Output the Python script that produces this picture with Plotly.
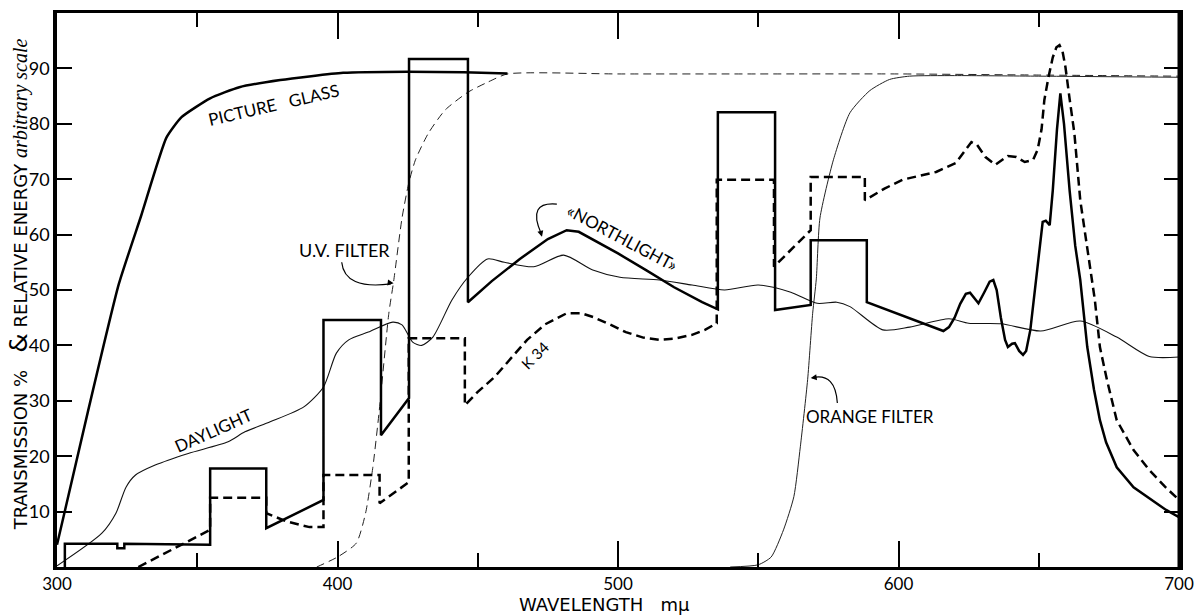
import plotly.graph_objects as go

# ---------------- data ----------------
glass_x = [300, 311, 322, 330, 339, 344.4, 354.6, 365, 379.6, 402, 425, 445, 460.6]
glass_y = [4, 28, 51, 63.4, 77.5, 81.2, 84.6, 86.6, 87.9, 89.2, 89.4, 89.3, 89.1]

uv_x = [392.6, 400, 406.7, 410, 412.6, 414.8, 418.3, 420, 423, 425.4, 427.8, 432.4, 438.4, 446.5,
        453.5, 460.6, 500, 550, 600, 650, 700]
uv_y = [0, 1.8, 4.3, 9.7, 18, 27.8, 45.8, 51.5, 63, 69.3, 73.5, 78.3, 82.5, 85.7,
        87.5, 89, 89, 89, 89, 88.8, 88.6]

orange_x = [540, 550, 554.6, 559, 562.7, 565, 567.6, 569.4, 570.7, 572, 576.8, 582.7, 589.8,
            596.8, 603.9, 620, 650, 700]
orange_y = [0, 0.4, 1.8, 6.7, 12.7, 21.7, 33.8, 45.8, 52, 63, 73.5, 82, 86,
            88, 88.6, 88.7, 88.6, 88.4]

daylight_x = [300, 316, 321, 324.6, 328, 335, 346.8, 361, 367, 376, 388, 395, 399.6, 404, 411,
              419.7, 423, 426.8, 430, 434, 440.8, 446.5, 453.5, 459.5, 470, 480.6, 491, 500.7,
              514.8, 526.4, 538, 550, 561.6, 571, 578, 582.7, 594.4, 604, 618, 625, 636.6,
              650.7, 664.8, 677.8, 689.4, 700]
daylight_y = [0.2, 6.1, 9.7, 14.4, 16.6, 18.4, 20.5, 22.6, 24.4, 26.2, 28.9, 32.5, 38.6, 41, 42.4,
              44.2, 43.7, 40.6, 40, 41.5, 48.2, 52.3, 55.6, 55, 54.2, 56.3, 53.6, 52.3,
              51.8, 50.9, 50, 50.9, 49.6, 47.6, 47.8, 47, 42.8, 43.3, 44.8, 44, 43.9,
              42.6, 44.4, 41.5, 38, 37.9]

north_x = [302.8, 302.8, 321.5, 321.5, 324, 324, 354.6, 354.6, 374.6, 374.6, 395, 395, 415.5, 415.5,
           425.5, 425.5, 446.5, 446.5, 455, 465, 475, 481.7, 486, 492, 500, 510, 520, 530, 535.6,
           535.6, 556, 556, 568.7, 568.7, 588.7, 588.7, 600, 614.4, 616, 618, 620, 622, 624, 625.5,
           627, 628.5, 630.5, 632.5, 633.8, 635, 636.5, 638, 639, 640.5, 641.5, 643, 644.4, 645.5,
           647, 648.6, 650, 651.4, 652.5, 653.9, 655, 656.5, 657.7, 659, 661, 663, 664.8, 667.3,
           669.7, 671.8, 674, 677.8, 683.8, 690, 695.4, 700]
north_y = [0, 4.2, 4.2, 3.4, 3.4, 4.2, 4.0, 17.8, 17.8, 7, 12.1, 44.6, 44.6, 23.8,
           30.5, 91.7, 91.7, 47.8, 51.6, 55.6, 59.2, 60.8, 60.5, 58.8, 56.6, 53.6, 50.5, 47.8, 46.5,
           82.1, 82.1, 46.4, 47.3, 59, 59, 47.8, 45.6, 42.8, 42.6, 43.3, 45, 47.5, 49.3, 49.5,
           48.5, 47.6, 49.5, 51.5, 51.8, 50, 45, 41, 39.7, 40.3, 40.4, 39, 38.3, 39,
           42.8, 50, 57, 62.3, 62.5, 61.7, 68, 79, 85.5, 80, 68, 58, 51.8, 39.7,
           32, 26.5, 22.5, 18, 14.4, 12.2, 10.3, 9]

k34_x = [329, 354.6, 354.6, 374.6, 374.6, 382, 390, 395, 395, 415, 415, 425.4, 425.4, 445.4, 445.4,
         450, 456, 462, 467.6, 474, 481.7, 487, 491.2, 497, 502.8, 509, 514.8, 520, 526.4, 531,
         535.2, 535.2, 555.6, 555.6, 568.7, 568.7, 588, 588, 595, 601.4, 607, 613.4, 620.4, 623.5,
         626, 628, 631, 634.5, 637, 639, 642, 645, 648, 649.6, 651, 652, 653.5, 655, 656.3, 657.4,
         658.5, 659.5, 661, 662.7, 664.8, 668, 670, 671.8, 674.3, 677.8, 683.8, 689.4, 695, 700]
k34_y = [0, 6.7, 12.5, 12.5, 9.7, 8.2, 7.2, 7.2, 16.6, 16.6, 11.5, 15.3, 41.3, 41.3, 29.2,
         31.6, 34.3, 37.8, 41, 43.8, 45.8, 45.8, 45.1, 43.8, 42.4, 41.4, 41, 41.2, 41.9, 42.8,
         44, 69.9, 69.9, 54.2, 60.8, 70.4, 70.4, 66.2, 68.3, 69.9, 70.6, 71.3, 72.9, 75,
         76.7, 76.2, 74, 72.6, 73.5, 74.2, 74, 73.1, 73.5, 75.3, 79, 84.3, 88.5, 92, 93.8, 94.2,
         93, 90.3, 84.5, 78.3, 66.2, 55.4, 48.2, 39.7, 33.8, 26.5, 21.1, 17.5, 14.5, 12.1]

x_ticks = [300, 400, 500, 600, 700]
x_tick_labels = ["300", "400", "500", "600", "700"]
y_ticks = [10, 20, 30, 40, 50, 60, 70, 80, 90]
y_tick_labels = ["10", "20", "30", "40", "50", "60", "70", "80", "90"]

FONT = "Lato"
TITLE_FONT = "DejaVu Sans"

fig = go.Figure()
fig.add_trace(go.Scatter(x=uv_x, y=uv_y, mode="lines", line=dict(color="#222", width=1, dash="8px,5px", shape="spline", smoothing=0.6), name="U.V. filter"))
fig.add_trace(go.Scatter(x=orange_x, y=orange_y, mode="lines", line=dict(color="#222", width=1, shape="spline", smoothing=0.6), name="Orange filter"))
fig.add_trace(go.Scatter(x=daylight_x, y=daylight_y, mode="lines", line=dict(color="#111", width=1.1, shape="spline", smoothing=0.7), name="Daylight"))
fig.add_trace(go.Scatter(x=glass_x, y=glass_y, mode="lines", line=dict(color="#000", width=2.5, shape="spline", smoothing=0.5), name="Picture glass"))
fig.add_trace(go.Scatter(x=k34_x, y=k34_y, mode="lines", line=dict(color="#000", width=2.5, dash="9px,5px"), name="K 34"))
fig.add_trace(go.Scatter(x=north_x, y=north_y, mode="lines", line=dict(color="#000", width=2.5), name="Northlight"))

ann_font = dict(family=FONT, size=17, color="#000")
annotations = [
    dict(x=377.5, y=83.4, text="PICTURE\u00a0\u00a0\u00a0GLASS", textangle=-13, showarrow=False, font=ann_font),
    dict(x=402.5, y=57.2, text="U.V. FILTER", showarrow=False, font=dict(family=FONT, size=18, color="#000")),
    dict(x=355.6, y=24.7, text="DAYLIGHT", textangle=-24, showarrow=False, font=ann_font),
    dict(x=501.4, y=59.4, text="«NORTHLIGHT»", textangle=28, showarrow=False, font=ann_font),
    dict(x=470.4, y=38.3, text="K 34", textangle=-45, showarrow=False, font=dict(family=FONT, size=15, color="#000")),
    dict(x=590, y=27.1, text="ORANGE FILTER", showarrow=False, font=ann_font),
    # arrowheads for curved pointers
    dict(x=420, y=51.2, ax=-7, ay=-1, text="", showarrow=True, arrowhead=2, arrowsize=1, arrowwidth=1.2, arrowcolor="#000"),
    dict(x=472.9, y=59.6, ax=-2, ay=-7, text="", showarrow=True, arrowhead=2, arrowsize=1, arrowwidth=1.2, arrowcolor="#000"),
    dict(x=568.7, y=34.1, ax=7, ay=-1, text="", showarrow=True, arrowhead=2, arrowsize=1, arrowwidth=1.2, arrowcolor="#000"),
    # axis titles
    dict(xref="paper", yref="paper", x=-0.034, y=0.51, xanchor="center", yanchor="middle", textangle=-90,
         text="TRANSMISSION %\u00a0\u00a0\u00a0<span style='font-size:25px'>&amp;</span>\u00a0RELATIVE ENERGY <i style='font-family:Liberation Serif;font-size:20px'>arbitrary scale</i>",
         showarrow=False, font=dict(family=TITLE_FONT, size=18, color="#000")),
    dict(xref="paper", yref="paper", x=0.488, y=-0.068, xanchor="center", yanchor="middle",
         text="WAVELENGTH\u00a0\u00a0\u00a0mμ", showarrow=False, font=dict(family=TITLE_FONT, size=18, color="#000")),
]

shapes = [
    dict(type="path", path="M 401.5,55 Q 402.5,50 419,51.1", line=dict(color="#000", width=1.2)),
    dict(type="path", path="M 478.2,65.5 Q 467.5,66 472.6,60.2", line=dict(color="#000", width=1.2)),
    dict(type="path", path="M 578.2,29.6 Q 577.5,35 569.6,34.2", line=dict(color="#000", width=1.2)),
    # right frame border
    dict(type="line", xref="paper", yref="paper", x0=1, x1=1, y0=0, y1=1, line=dict(color="#000", width=3)),
]

fig.update_layout(
    template="none",
    width=1195, height=616,
    margin=dict(l=57, r=16, t=13, b=49, autoexpand=False),
    paper_bgcolor="white", plot_bgcolor="white",
    showlegend=False,
    annotations=annotations,
    shapes=shapes,
    font=dict(family=FONT, color="#000"),
)
fig.update_xaxes(
    automargin=False, ticklabeloverflow="allow",
    range=[300, 700], tickvals=x_ticks, ticktext=x_tick_labels,
    ticks="inside", ticklen=26, tickwidth=2, tickcolor="#000",
    minor=dict(tickvals=[350, 450, 550, 650], ticks="inside", ticklen=14, tickwidth=2, tickcolor="#000"),
    showline=True, linewidth=3, linecolor="#000", mirror="ticks",
    showgrid=False, zeroline=False,
    tickfont=dict(family=FONT, size=17, color="#000"),
)
fig.update_yaxes(
    automargin=False,
    range=[0, 100], tickvals=y_ticks, ticktext=y_tick_labels,
    ticks="inside", ticklen=15, tickwidth=2, tickcolor="#000",
    showline=True, linewidth=3.5, linecolor="#000", mirror="ticks",
    showgrid=False, zeroline=False,
    tickfont=dict(family=FONT, size=18, color="#000"),
)

# remove the browser's default 8px body margin so the figure sits at the page origin
fig.write_html("out.html", config={"displayModeBar": False},
               post_script="document.body.style.margin='0px';document.body.style.overflow='hidden';"
                           "document.documentElement.style.overflow='hidden';")
